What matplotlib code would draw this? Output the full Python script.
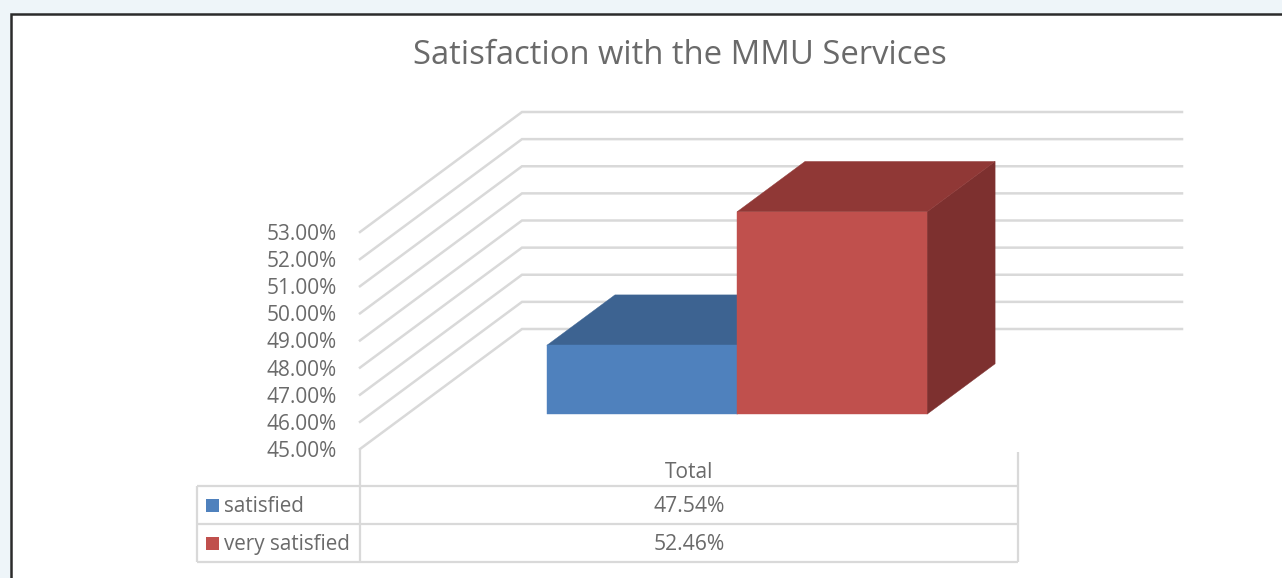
import matplotlib
matplotlib.use("Agg")
import matplotlib.pyplot as plt
from matplotlib.patches import Polygon, Rectangle
from matplotlib.ticker import FuncFormatter

# chart data
category = "Total"
series_names = ["satisfied", "very satisfied"]
series_values = [47.54, 52.46]
y_ticks = [45, 46, 47, 48, 49, 50, 51, 52, 53]
title = "Satisfaction with the MMU Services"

# colours of front, top and side faces
front_colors = ["#4f81bd", "#c0504d"]
top_colors = ["#3d6391", "#903836"]
side_colors = ["#335277", "#7d302f"]

W, H = 1282, 578
plt.rcParams['font.family'] = ['Open Sans', 'DejaVu Sans']
TEXT = '#6a6a6a'
GRID = '#d9d9d9'

fig = plt.figure(figsize=(W / 100, H / 100), dpi=100, facecolor='#eef5f9')

# full figure canvas in pixels for the frame, title and data table
bg = fig.add_axes([0, 0, 1, 1], zorder=0)
bg.set_xlim(0, W)
bg.set_ylim(H, 0)
bg.axis('off')
bg.add_patch(Rectangle((10.5, 13.5), W, H, facecolor='white', edgecolor='#2b2b2b', lw=1.8))
bg.text(680, 55, title, ha='center', va='center', fontsize=23.6, color=TEXT)

# front plane of the 3d box
px_left, px_right, px_bottom, px_top = 360, 1020, 449, 232
ax = fig.add_axes([px_left / W, 1 - px_bottom / H, (px_right - px_left) / W, (px_bottom - px_top) / H], zorder=1)
ax.set_xlim(0, 1)
ax.set_ylim(y_ticks[0], y_ticks[-1])
ax.patch.set_visible(False)
for s in ax.spines.values():
    s.set_visible(False)
ax.set_xticks([])
ax.set_yticks(y_ticks)
ax.yaxis.set_major_formatter(FuncFormatter(lambda v, _: f"{v:.2f}%"))
ax.tick_params(axis='y', length=0, pad=17, labelsize=15, labelcolor=TEXT)
for lbl in ax.get_yticklabels():
    lbl.set_va('center_baseline')

# depth direction: 162 px right, 120 px up, as data units
DX = 162 / (px_right - px_left)
DY = 120 / (px_bottom - px_top) * (y_ticks[-1] - y_ticks[0])


def proj(x, y, z):
    return (x + z * DX, y + z * DY)


# side wall and back wall gridlines
for v in y_ticks:
    pts = [proj(0, v, 0), proj(0, v, 1), proj(1, v, 1)]
    ax.plot([p[0] for p in pts], [p[1] for p in pts], color=GRID, lw=1.8,
            clip_on=False, zorder=1, solid_joinstyle='miter')

# 3d columns
bar_w = 0.288
z0, z1 = 0.29, 0.71
base = y_ticks[0]
start = 0.5 - len(series_values) * bar_w / 2
for i, val in enumerate(series_values):
    x0 = start + i * bar_w
    x1 = x0 + bar_w
    side = [proj(x1, base, z0), proj(x1, base, z1), proj(x1, val, z1), proj(x1, val, z0)]
    top = [proj(x0, val, z0), proj(x1, val, z0), proj(x1, val, z1), proj(x0, val, z1)]
    front = [proj(x0, base, z0), proj(x1, base, z0), proj(x1, val, z0), proj(x0, val, z0)]
    for face, c in [(side, side_colors[i]), (top, top_colors[i]), (front, front_colors[i])]:
        ax.add_patch(Polygon(face, closed=True, facecolor=c, edgecolor=c, lw=0.3,
                             clip_on=False, zorder=3 + i))

# data table
tbl_left, col_left, col_right = 197, 360, 1018
row_edges = [486, 524, 562]
line_kw = dict(color=GRID, lw=1.6, solid_capstyle='butt')
for y in row_edges:
    bg.plot([tbl_left, col_right], [y, y], **line_kw)
bg.plot([tbl_left, tbl_left], [row_edges[0], row_edges[-1]], **line_kw)
bg.plot([col_left, col_left], [px_bottom, row_edges[-1]], **line_kw)
bg.plot([col_right, col_right], [452, row_edges[-1]], **line_kw)

col_mid = (col_left + col_right) / 2
bg.text(col_mid, 473, category, ha='center', va='center', fontsize=15, color=TEXT)
for i, (name, val) in enumerate(zip(series_names, series_values)):
    yc = (row_edges[i] + row_edges[i + 1]) / 2
    bg.add_patch(Rectangle((206, yc - 6.5), 13, 13, facecolor=front_colors[i], edgecolor='none'))
    bg.text(224, yc + 1.5, name, ha='left', va='center', fontsize=14.9, color=TEXT)
    bg.text(col_mid, yc + 1.5, f"{val:.2f}%", ha='center', va='center', fontsize=15.2, color=TEXT)

fig.savefig('out.png', dpi=100, facecolor=fig.get_facecolor())
